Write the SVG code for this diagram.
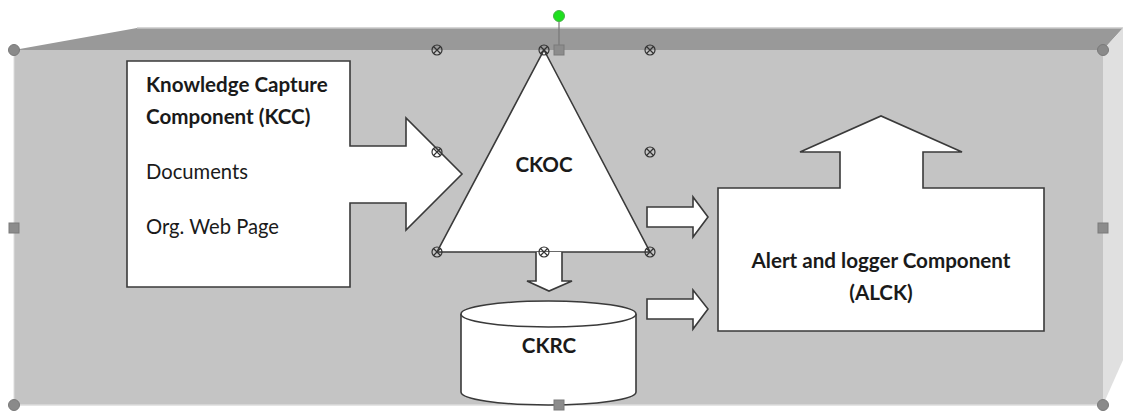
<svg xmlns="http://www.w3.org/2000/svg" width="1123" height="415" viewBox="0 0 1123 415">
<style>
.shape{fill:#ffffff;stroke:#3a3a3a;stroke-width:1.6;stroke-linejoin:miter}
.b{font-family:Lato,"Open Sans",sans-serif;font-weight:bold;font-size:20.6px;fill:#1a1a1a}
.r{font-family:Lato,"Open Sans",sans-serif;font-size:20.2px;fill:#1a1a1a}
.hc{fill:#8a8a8a;stroke:#7a7a7a;stroke-width:1}
.hs{fill:#8c8c8c;stroke:#7a7a7a;stroke-width:1}
.x{fill:none;stroke:#333;stroke-width:1.2}
</style>
<defs>
<g id="xh"><circle r="5" class="x"/><path d="M-3.5,-3.5 L3.5,3.5 M-3.5,3.5 L3.5,-3.5" class="x"/></g>
</defs>
<rect width="1123" height="415" fill="#ffffff"/>
<g id="frame">
<polygon points="14,50 137,28 1123,28 1103,50" fill="#999999"/>
<line x1="137" y1="28" x2="1123" y2="28" stroke="#c8c8c8" stroke-width="1.5"/>
<polygon points="1103,50 1123,28 1123,360 1103,405" fill="#e0e0e0"/>
<rect x="14" y="50" width="1089" height="355" fill="#c4c4c4"/>
<line x1="14" y1="405" x2="1103" y2="405" stroke="#dcdcdc" stroke-width="1.5"/>
<line x1="14" y1="50" x2="14" y2="405" stroke="#dcdcdc" stroke-width="1"/>
</g>
<g id="kcc">
<path class="shape" d="M127,61 H350 V146 H406 V118 L462,174 L406,230 V203 H350 V287 H127 Z"/>
<text class="b" x="146" y="92">Knowledge Capture</text>
<text class="b" x="146" y="124">Component (KCC)</text>
<text class="r" x="146" y="179">Documents</text>
<text class="r" x="146" y="234">Org. Web Page</text>
</g>
<g id="ckoc">
<polygon class="shape" points="544,50 650,252 437,252"/>
<text class="b" x="544" y="172" text-anchor="middle">CKOC</text>
</g>
<g id="ckrc">
<path class="shape" d="M461,314 V392 A87.5,13 0 0 0 636,392 V314"/>
<ellipse class="shape" cx="548.5" cy="314" rx="87.5" ry="13"/>
<text class="b" x="549" y="353" text-anchor="middle">CKRC</text>
</g>
<g id="alck">
<path class="shape" d="M718,188 H840 V152 H800 L881,116 L962,152 H923 V188 H1044 V331 H718 Z"/>
<text class="b" x="881" y="268" text-anchor="middle">Alert and logger Component</text>
<text class="b" x="881" y="300" text-anchor="middle">(ALCK)</text>
</g>
<g id="connectors">
<path class="shape" d="M536,252 V281 H527 L549,291 L572,281 H562 V252"/>
<path class="shape" d="M647,207 H693 V197 L708,217 L693,237 V227 H647 Z"/>
<path class="shape" d="M647,299 H693 V290 L708,309 L693,329 V319 H647 Z"/>
</g>
<g id="handles">
<use href="#xh" x="437" y="50"/>
<use href="#xh" x="544" y="50"/>
<use href="#xh" x="650" y="50"/>
<use href="#xh" x="437" y="152"/>
<use href="#xh" x="650" y="152"/>
<use href="#xh" x="437" y="252"/>
<use href="#xh" x="544" y="252"/>
<use href="#xh" x="650" y="252"/>
<line x1="559" y1="16" x2="559" y2="46" stroke="#777" stroke-width="1.2"/>
<circle cx="559" cy="16" r="5.5" fill="#1ee01e" stroke="#49b049" stroke-width="1"/>
<rect class="hs" x="554" y="45" width="10" height="10"/>
<rect class="hs" x="9" y="223" width="10" height="10"/>
<rect class="hs" x="1098" y="223" width="10" height="10"/>
<rect class="hs" x="554" y="400" width="10" height="10"/>
<circle class="hc" cx="14" cy="50" r="5.5"/>
<circle class="hc" cx="1103" cy="50" r="5.5"/>
<circle class="hc" cx="14" cy="405" r="5.5"/>
<circle class="hc" cx="1103" cy="405" r="5.5"/>
</g>
</svg>
